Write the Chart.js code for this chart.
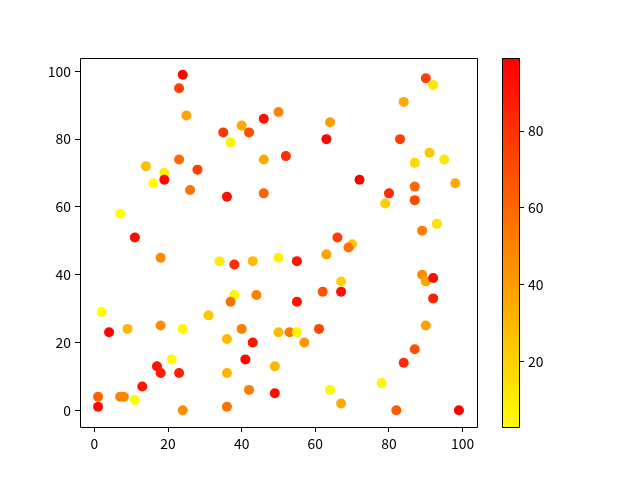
<!DOCTYPE html>
<html><head><meta charset="utf-8">
<script src="https://cdn.jsdelivr.net/npm/chart.js@4"></script>
<style>html,body{margin:0;padding:0;background:#fff}#wrap{position:relative;width:640px;height:480px;background:#fff}canvas{position:absolute;left:0;top:0}</style>
</head><body><div id="wrap"><canvas id="main" width="640" height="480"></canvas><canvas id="cbar" width="640" height="480"></canvas></div>
<script>
const xValues = [24,23,25,35,40,42,46,50,37,14,23,28,19,19,16,26,36,46,46,7,11,
  90,92,84,64,63,83,52,87,91,95,72,98,87,80,87,79,89,93,66,70,69,
  50,55,63,89,90,92,67,62,67,55,92,50,53,55,61,57,90,87,84,49,78,64,67,82,99,49,
  18,34,38,43,38,37,44,2,31,4,9,18,24,36,40,43,21,17,18,23,41,36,13,1,7,8,11,1,24,36,42];
const yValues = [99,95,87,82,84,82,86,88,79,72,74,71,70,68,67,65,63,74,64,58,51,
  98,96,91,85,80,80,75,73,76,74,68,67,66,64,62,61,53,55,51,49,48,
  45,44,46,40,38,39,38,35,35,32,33,23,23,23,24,20,25,18,14,13,8,6,2,0,0,5,
  45,44,43,44,34,32,34,29,28,23,24,25,24,21,24,20,15,13,11,11,15,11,7,4,4,4,3,1,0,1,6];
const colorValues = [97,75,37,78,35,70,93,50,8,28,60,75,10,97,5,55,94,35,62,3,95,
  75,12,35,40,97,75,82,18,24,12,99,35,60,83,72,22,52,14,76,24,57,
  8,92,38,47,37,94,20,68,93,92,87,28,54,8,73,42,39,68,83,31,6,6,35,65,99,95,
  47,10,82,28,6,57,51,4,24,97,30,46,6,29,52,92,4,92,88,86,96,31,90,63,52,48,4,96,45,57,52];
const xTicks = [0,20,40,60,80,100];
const yTicks = [0,20,40,60,80,100];
const colorbarTicks = [20,40,60,80];

const vmin = Math.min(...colorValues), vmax = Math.max(...colorValues);
function cmap(v){const t=(v-vmin)/(vmax-vmin);return 'rgb(255,'+Math.round(255*(1-t))+',0)';}
function padRange(arr){const mn=Math.min(...arr),mx=Math.max(...arr),m=(mx-mn)*0.05;return [mn-m,mx+m];}
const [xmin,xmax]=padRange(xValues);
const [ymin,ymax]=padRange(yValues);
const pts = xValues.map((x,i)=>({x:x,y:yValues[i],v:colorValues[i]}));
const frame = {id:'frame', afterDraw(c){const a=c.chartArea,ctx=c.ctx;ctx.save();ctx.strokeStyle='rgb(0,0,0)';ctx.lineWidth=1;ctx.beginPath();ctx.rect(Math.round(a.left)+0.5,Math.round(a.top)+0.5,Math.round(a.right)-Math.round(a.left),Math.round(a.bottom)-Math.round(a.top));ctx.stroke();ctx.restore();}};
const gradientBar = {id:'gradientBar', beforeDatasetsDraw(c){const a=c.chartArea,ctx=c.ctx,s=c.scales.y;
  const top=Math.round(s.getPixelForValue(vmax)),bot=Math.round(s.getPixelForValue(vmin));
  const g=ctx.createLinearGradient(0,bot,0,top);g.addColorStop(0,cmap(vmin));g.addColorStop(1,cmap(vmax));
  ctx.save();ctx.fillStyle=g;ctx.fillRect(Math.round(a.left),top,Math.round(a.right)-Math.round(a.left),bot-top);ctx.restore();}};
const font = {family:'"Noto Sans CJK SC", "Noto Sans", sans-serif', size:13.9};
const tickGrid = ()=>({display:true,drawOnChartArea:false,tickLength:5,color:'#000',tickColor:'#000',tickWidth:1});

new Chart(document.getElementById('main'), {
  type:'scatter',
  data:{datasets:[{data:pts, backgroundColor:ctx=>cmap(ctx.raw?ctx.raw.v:vmin), pointRadius:5, pointHoverRadius:5, borderWidth:0, borderColor:'rgba(0,0,0,0)'}]},
  options:{responsive:false, animation:false, events:[],
    layout:{padding:{left:0,top:58,right:163,bottom:0}},
    plugins:{legend:{display:false},tooltip:{enabled:false}},
    scales:{
      x:{type:'linear',min:xmin,max:xmax,
         afterBuildTicks:s=>{s.ticks=xTicks.map(v=>({value:v}));},
         afterFit:s=>{s.height=53;},
         grid:tickGrid(), border:{display:false},
         ticks:{color:'#000',font:font,padding:3,maxRotation:0}},
      y:{type:'linear',min:ymin,max:ymax,
         afterBuildTicks:s=>{s.ticks=yTicks.map(v=>({value:v}));},
         afterFit:s=>{s.width=80;},
         grid:tickGrid(), border:{display:false},
         ticks:{color:'#000',font:font,padding:4}}
    }},
  plugins:[frame]
});

new Chart(document.getElementById('cbar'), {
  type:'scatter',
  data:{datasets:[]},
  options:{responsive:false, animation:false, events:[],
    layout:{padding:{left:502,top:58,right:0,bottom:53}},
    plugins:{legend:{display:false},tooltip:{enabled:false}},
    scales:{
      x:{type:'linear',display:false,min:0,max:1,grid:{display:false},border:{display:false}},
      y:{type:'linear',position:'right',min:vmin,max:vmax,
         afterBuildTicks:s=>{s.ticks=colorbarTicks.map(v=>({value:v}));},
         afterFit:s=>{s.width=121;},
         grid:tickGrid(), border:{display:false},
         ticks:{color:'#000',font:font,padding:4}}
    }},
  plugins:[gradientBar,frame]
});
</script></body></html>
